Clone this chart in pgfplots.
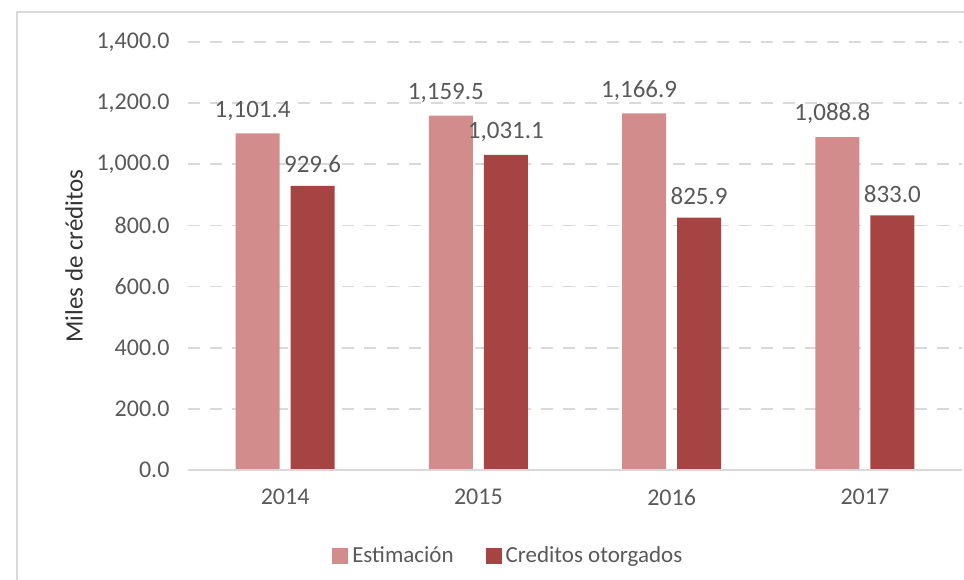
\documentclass[border=0pt]{standalone}
\usepackage{pgfplots}
\pgfplotsset{compat=1.18}
\usepackage{fontspec}
\setmainfont{Carlito}
\definecolor{lightbar}{HTML}{D28C8C}
\definecolor{darkbar}{HTML}{A54442}
\definecolor{txt}{HTML}{595959}
\definecolor{gridc}{HTML}{D9D9D9}
\begin{document}
\begin{tikzpicture}
\begin{axis}[
  scale only axis,
  width=386.5pt, height=214pt,
  ybar=5.5pt, bar width=22pt,
  xmin=-0.5, xmax=3.5,
  ymin=0, ymax=1400,
  xtick={0,1,2,3},
  xticklabels={2014,2015,2016,2017},
  ytick={0,200,400,600,800,1000,1200,1400},
  major tick length=0pt,
  axis line style={draw=none},
  axis x line*=bottom,
  axis y line*=left,
  ymajorgrids, xmajorgrids=false,
  grid style={draw=gridc, line width=0.9pt, dash pattern=on 6pt off 5pt},
  /pgf/number format/assume math mode=true,
  yticklabel={\pgfmathprintnumber[fixed,fixed zerofill,precision=1,1000 sep={,}]{\tick}},
  yticklabel style={font=\fontsize{12}{14}\selectfont, text=txt, xshift=-6pt},
  xticklabel style={font=\fontsize{12}{14}\selectfont, text=txt, yshift=-6pt},
  ylabel={Miles de créditos},
  ylabel style={font=\fontsize{12.5}{14}\selectfont, text=black!80},
  nodes near coords={\pgfmathprintnumber[fixed,fixed zerofill,precision=1,1000 sep={,},assume math mode=true]{\pgfplotspointmeta}},
  nodes near coords style={font=\fontsize{12.5}{14}\selectfont, text=txt, anchor=south, yshift=3pt},
  legend style={draw=none, font=\fontsize{11.5}{13}\selectfont, text=txt,
    at={(0.415,-0.2)}, anchor=center, legend columns=2,
    /tikz/every even column/.append style={column sep=14pt}},
  legend image code/.code={\fill[#1] (0pt,-4pt) rectangle (8pt,4pt);},
  clip=false,
]
\addplot[fill=lightbar, draw=none, nodes near coords style={xshift=-2.5pt}] coordinates {(0,1101.4) (1,1159.5) (2,1166.9) (3,1088.8)};
\addplot[fill=darkbar, draw=none] coordinates {(0,929.6) (1,1031.1) (2,825.9) (3,833.0)};
\legend{Estimación, Creditos otorgados}
\draw[gridc, line width=1pt] (rel axis cs:0,0) -- (rel axis cs:1,0);
\coordinate (A) at (rel axis cs:0,0);
\coordinate (B) at (rel axis cs:1,1);
\end{axis}
\pgfresetboundingbox
\path[use as bounding box] ([shift={(-94.25pt,-54.5pt)}]A) rectangle ([shift={(1.25pt,21pt)}]B);
\draw[gridc, line width=1pt] ([shift={(-85.75pt,-80pt)}]A) -- ([shift={(-85.75pt,15pt)}]A|-B) -- ([shift={(20pt,15pt)}]B);
\end{tikzpicture}
\end{document}
